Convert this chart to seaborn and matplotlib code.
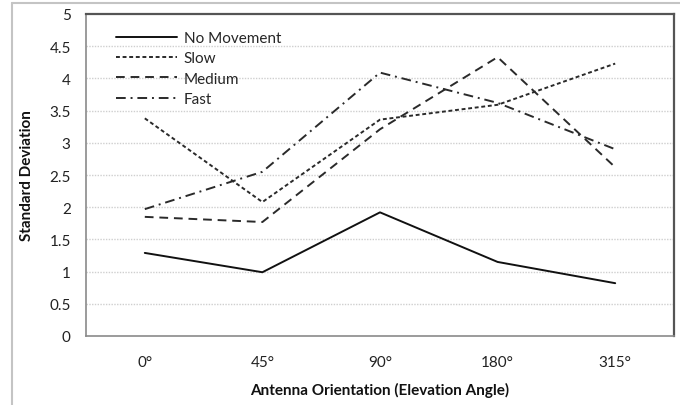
import matplotlib
matplotlib.use("Agg")
import matplotlib.pyplot as plt
import pandas as pd
import seaborn as sns
from matplotlib.lines import Line2D

# orientation categories and the standard deviation
angles = ["0°", "45°", "90°", "180°", "315°"]
no_movement = [1.29, 0.99, 1.92, 1.15, 0.82]
slow = [3.38, 2.08, 3.36, 3.59, 4.23]
medium = [1.85, 1.77, 3.21, 4.33, 2.62]
fast = [1.97, 2.55, 4.09, 3.62, 2.90]

series = {"No Movement": no_movement, "Slow": slow, "Medium": medium, "Fast": fast}
rows = []
for name, vals in series.items():
    for i, v in enumerate(vals):
        rows.append({"pos": i, "angle": angles[i], "speed": name, "sd": v})
df = pd.DataFrame(rows)

sns.set_style("white")
plt.rcParams['font.family'] = ['Lato', 'DejaVu Sans']

fig = plt.figure(figsize=(6.8, 4.06), dpi=100)
ax = fig.add_axes([86 / 680, 69 / 406, 588 / 680, 322 / 406])

dash_map = {"No Movement": "", "Slow": (2.0, 1.4), "Medium": (4.5, 3), "Fast": (5, 2.5, 1, 2.5)}
sns.lineplot(data=df, x="pos", y="sd", hue="speed", style="speed",
             palette=["#111111", "#2a2a2a", "#2a2a2a", "#2a2a2a"],
             dashes=dash_map, linewidth=1.4, ax=ax, legend=True)

# horizontal dotted gridlines
for yv in [0.5, 1, 1.5, 2, 2.5, 3, 3.5, 4, 4.5]:
    ax.axhline(yv, color="#cfcfcf", lw=1.0, ls=(0, (1, 1)), zorder=0)

ax.set_xlim(-0.5, 4.5)
ax.set_ylim(0, 5)
ax.set_yticks([0, 0.5, 1, 1.5, 2, 2.5, 3, 3.5, 4, 4.5, 5])
ax.set_yticklabels(["0", "0.5", "1", "1.5", "2", "2.5", "3", "3.5", "4", "4.5", "5"])
ax.set_xticks(range(len(angles)))
ax.set_xticklabels(angles)
ax.set_xticks([-0.5, 0.5, 1.5, 2.5, 3.5, 4.5], minor=True)
ax.tick_params(axis="x", which="major", length=0, pad=14, labelsize=11, colors="#222222")
ax.tick_params(axis="x", which="minor", length=5, width=1, color="#888888", direction="out")
ax.tick_params(axis="y", length=5, width=1, color="#888888", direction="out", pad=6,
               labelsize=11, labelcolor="#222222")

for side in ["left", "bottom"]:
    ax.spines[side].set_color("#8a8a8a")
    ax.spines[side].set_linewidth(1.2)
for side in ["top", "right"]:
    ax.spines[side].set_color("#555555")
    ax.spines[side].set_linewidth(1.6)

ax.set_xlabel("Antenna Orientation (Elevation Angle)", fontsize=11, fontweight="bold",
              labelpad=9, color="#111111")
ax.set_ylabel("Standard Deviation", fontsize=11, fontweight="bold", labelpad=11, color="#111111")

leg = ax.legend(loc="upper left", frameon=False, fontsize=11, handlelength=4.0,
                handletextpad=0.45, labelspacing=0.42, bbox_to_anchor=(0.027, 0.99))
for line in leg.get_lines():
    line.set_linewidth(1.4)

# outer chart border (cropped screenshot edge)
fig.add_artist(Line2D([12 / 680, 1], [1 - 3.5 / 406, 1 - 3.5 / 406], color="#c4c4c4", lw=1.5))
fig.add_artist(Line2D([12 / 680, 12 / 680], [0, 1 - 3.5 / 406], color="#c4c4c4", lw=1.5))

fig.savefig("out.png", dpi=100)
